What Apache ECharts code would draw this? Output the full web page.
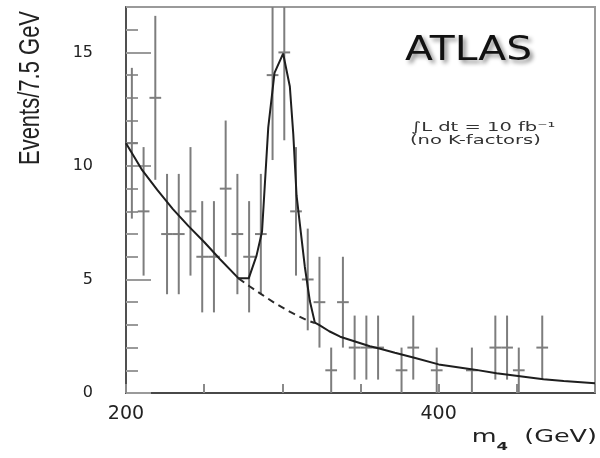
<!DOCTYPE html>
<html><head><meta charset="utf-8">
<script src="https://cdn.jsdelivr.net/npm/echarts@6/dist/echarts.min.js"></script>
<style>html,body{margin:0;padding:0;background:#fff}#c{width:600px;height:458px}</style>
</head><body><div id="c"></div>
<script>
// Histogram bins (7.5 GeV wide) - bin centres, event counts, error half-lengths
const binCenters = [203.75, 211.25, 218.75, 226.25, 233.75, 241.25, 248.75, 256.25, 263.75, 271.25,
  278.75, 286.25, 293.75, 301.25, 308.75, 316.25, 323.75, 331.25, 338.75, 346.25,
  353.75, 361.25, 368.75, 376.25, 383.75, 391.25, 398.75, 406.25, 413.75, 421.25,
  428.75, 436.25, 443.75, 451.25, 458.75, 466.25, 473.75, 481.25, 488.75, 496.25];
const counts = [11, 8, 13, 7, 7, 8, 6, 6, 9, 7,
  6, 7, 14, 15, 8, 5, 4, 1, 4, 2,
  2, 2, 0, 1, 2, 0, 1, 0, 0, 1,
  0, 2, 2, 1, 0, 2, 0, 0, 0, 0];
const errors = [3.32, 2.83, 3.61, 2.65, 2.65, 2.83, 2.45, 2.45, 3.0, 2.65,
  2.45, 2.65, 3.74, 3.87, 2.83, 2.24, 2.0, 1.0, 2.0, 1.41,
  1.41, 1.41, 0, 1.0, 1.41, 0, 1.0, 0, 0, 1.0,
  0, 1.41, 1.41, 1.0, 0, 1.41, 0, 0, 0, 0];

// Signal + background curve (solid)
const totalMass = [200, 210, 220, 230, 240, 250, 260, 272, 278.5, 283.5, 287, 291, 295, 300.5, 304.8, 307,
  309.1, 311.2, 314.4, 317.6, 320.8, 324, 330, 337, 347, 356, 362, 372, 385, 400, 422, 437, 452, 467, 480, 500];
const totalValue = [11.0, 9.85, 8.95, 8.1, 7.35, 6.65, 5.9, 5.05, 5.05, 6.05, 7.1, 11.7, 14.1, 14.95, 13.5, 11.4,
  8.7, 7.45, 5.55, 4.05, 3.1, 2.98, 2.72, 2.48, 2.26, 2.06, 1.96, 1.77, 1.54, 1.26, 1.04, 0.87, 0.74, 0.61, 0.53, 0.43];

// Background only under the peak (dashed)
const bgMass = [272, 279, 287, 295, 305, 315.5, 320.8];
const bgValue = [5.05, 4.7, 4.33, 3.97, 3.57, 3.21, 3.08];

const yLabelTicks = [0, 5, 10, 15];
const xLabelTicks = [200, 400];

const binWidth = 7.5;
const points = [];
binCenters.forEach(function (m, i) { if (counts[i] > 0) points.push([m, counts[i], errors[i]]); });

const chart = echarts.init(document.getElementById('c'), null, { renderer: 'canvas' });
const barColor = '#7d7d7d';

chart.setOption({
  animation: false,
  backgroundColor: '#fff',
  grid: { left: 126, right: 5, top: 7, bottom: 65, show: true, borderColor: '#9a9a9a', borderWidth: 2 },
  xAxis: {
    type: 'value', min: 200, max: 500, interval: 50,
    axisLine: { show: true, lineStyle: { color: '#484848', width: 2 } },
    axisTick: { show: true, inside: true, length: 9, lineStyle: { color: '#8a8a8a', width: 2 } },
    splitLine: { show: false },
    axisLabel: {
      margin: 12, color: '#222', fontSize: 19, fontFamily: 'DejaVu Sans',
      formatter: function (v) { return xLabelTicks.indexOf(v) >= 0 ? String(v) : ''; }
    }
  },
  yAxis: [{
    type: 'value', min: 0, max: 17, interval: 5, position: 'left',
    axisLine: { show: true, lineStyle: { color: '#505050', width: 2 } },
    axisTick: { show: true, inside: true, length: 25, lineStyle: { color: '#9a9a9a', width: 2 } },
    splitLine: { show: false },
    axisLabel: {
      margin: 33, color: '#222', fontSize: 16, fontFamily: 'DejaVu Sans', showMaxLabel: false,
      formatter: function (v) { return yLabelTicks.indexOf(v) >= 0 ? String(v) : ''; }
    }
  }, {
    type: 'value', min: 0, max: 17, interval: 1, position: 'left',
    axisLine: { show: false },
    axisTick: { show: true, inside: true, length: 12, lineStyle: { color: '#9a9a9a', width: 2 } },
    splitLine: { show: false },
    axisLabel: { show: false }
  }],
  series: [{
    type: 'custom',
    xAxisIndex: 0, yAxisIndex: 0,
    encode: { x: 0, y: 1 },
    data: points,
    renderItem: function (params, api) {
      const m = api.value(0), v = api.value(1), e = api.value(2);
      const cs = params.coordSys;
      const top = api.coord([m, v + e]);
      const bot = api.coord([m, v - e]);
      const l = api.coord([m - binWidth / 2, v]);
      const r = api.coord([m + binWidth / 2, v]);
      const yTop = Math.max(top[1], cs.y);
      const yBot = Math.min(bot[1], cs.y + cs.height);
      return {
        type: 'group', children: [
          { type: 'line', shape: { x1: top[0], y1: yTop, x2: top[0], y2: yBot }, style: { stroke: barColor, lineWidth: 2 } },
          { type: 'line', shape: { x1: l[0], y1: l[1], x2: r[0], y2: r[1] }, style: { stroke: barColor, lineWidth: 2 } }
        ]
      };
    },
    z: 2
  }, {
    type: 'line',
    data: totalMass.map(function (m, i) { return [m, totalValue[i]]; }),
    showSymbol: false, smooth: false,
    lineStyle: { color: '#1e1e1e', width: 2 },
    z: 3
  }, {
    type: 'line',
    data: bgMass.map(function (m, i) { return [m, bgValue[i]]; }),
    showSymbol: false, smooth: false,
    lineStyle: { color: '#2a2a2a', width: 2, type: [7, 5] },
    z: 3
  }],
  graphic: [{
    type: 'text', x: 405, y: 51, scaleX: 1.2,
    style: {
      text: 'ATLAS', font: '34px "DejaVu Sans"', fill: '#111', align: 'left', verticalAlign: 'middle',
      textShadowColor: 'rgba(0,0,0,0.45)', textShadowBlur: 4, textShadowOffsetX: 3, textShadowOffsetY: 3,
      shadowColor: 'rgba(0,0,0,0.45)', shadowBlur: 4, shadowOffsetX: 3, shadowOffsetY: 3
    }
  }, {
    type: 'text', x: 411, y: 127.5, scaleX: 1.5,
    style: { text: '\u222BL dt = 10 fb\u207B\u00B9', font: '13px "DejaVu Sans"', fill: '#333', align: 'left', verticalAlign: 'middle' }
  }, {
    type: 'text', x: 410, y: 140.5, scaleX: 1.5,
    style: { text: '(no K-factors)', font: '13px "DejaVu Sans"', fill: '#333', align: 'left', verticalAlign: 'middle' }
  }, {
    type: 'text', x: 31, y: 88, rotation: Math.PI / 2, scaleY: 1.3,
    style: { text: 'Events/7.5 GeV', font: '22px "Liberation Sans"', fill: '#222', align: 'center', verticalAlign: 'middle' }
  }, {
    type: 'text', x: 597, y: 438, scaleX: 1.5,
    style: {
      text: '{a|m}{b|4}{a|  (GeV)}', align: 'right', verticalAlign: 'middle',
      rich: {
        a: { font: '17px "DejaVu Sans"', fill: '#222', lineHeight: 30 },
        b: { font: 'bold 11px "DejaVu Sans"', fill: '#222', lineHeight: 12, verticalAlign: 'bottom' }
      }
    }
  }]
});
</script>
</body></html>
